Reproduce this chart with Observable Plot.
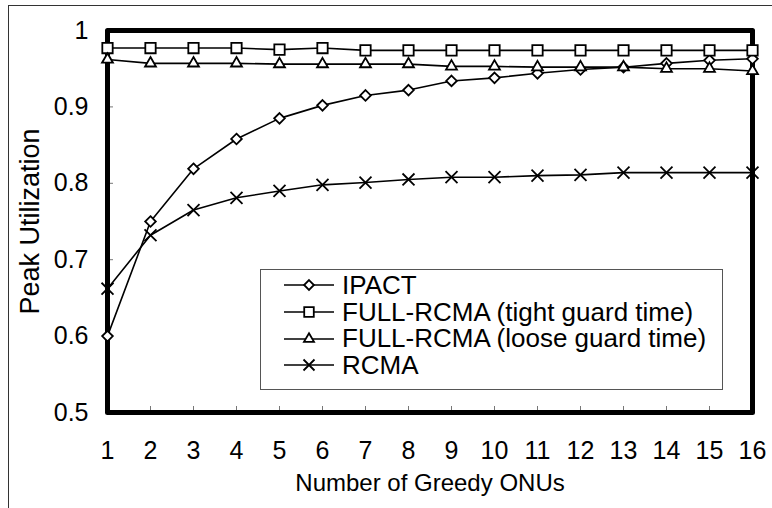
<!DOCTYPE html>
<html><head><meta charset="utf-8">
<script src="https://cdn.jsdelivr.net/npm/d3@7"></script>
<script src="https://cdn.jsdelivr.net/npm/@observablehq/plot@0.6"></script>
<style>
body{margin:0;background:#fff;font-family:"Liberation Sans",Arial,sans-serif;}
#wrap{position:relative;width:772px;height:508px;overflow:hidden}
#outer{position:absolute;left:8px;top:5px;right:-4px;bottom:-4px;border-left:1.5px solid #333;border-top:1.5px solid #333;pointer-events:none}
#legend{position:absolute;left:260px;top:269px;width:463px;height:121px;border:1.5px solid #555;background:#fff;padding-top:2px;box-sizing:border-box}
.row{display:flex;align-items:center;height:26.7px;line-height:26.7px;font-size:26px;color:#000;white-space:nowrap}
.row svg{margin-left:23px;margin-right:8px;overflow:visible}
</style></head><body><div id="wrap"><div id="outer"></div><div id="legend"></div></div>
<script>
const onus = [1,2,3,4,5,6,7,8,9,10,11,12,13,14,15,16];
const ipact = [0.600,0.750,0.819,0.858,0.885,0.902,0.915,0.922,0.934,0.938,0.944,0.949,0.952,0.957,0.961,0.963];
const tight = [0.977,0.977,0.977,0.977,0.975,0.977,0.974,0.974,0.974,0.974,0.974,0.974,0.974,0.974,0.974,0.974];
const loose = [0.962,0.957,0.957,0.957,0.956,0.956,0.956,0.956,0.953,0.953,0.952,0.952,0.952,0.950,0.950,0.947];
const rcma = [0.662,0.732,0.765,0.781,0.790,0.798,0.801,0.805,0.808,0.808,0.810,0.811,0.814,0.814,0.814,0.814];
const seriesNames = ["IPACT","FULL-RCMA (tight guard time)","FULL-RCMA (loose guard time)","RCMA"];
const xTicks = onus;
const yTicks = [0.5,0.6,0.7,0.8,0.9,1];
const yTickLabels = ["0.5","0.6","0.7","0.8","0.9","1"];
const xLabel = "Number of Greedy ONUs";
const yLabel = "Peak Utilization";

const styles = [
  {symbol:"diamond2", r:4.8},
  {symbol:"square2", r:6.6},
  {symbol:"triangle2", r:5.2},
  {symbol:"times", r:5.5}
];
const allVals = [ipact, tight, loose, rcma];
const series = seriesNames.map((name,k)=>({name, ...styles[k], data: onus.map((x,i)=>({x, y: allVals[k][i], name}))}));

const chart = Plot.plot({
  width:772, height:508,
  marginLeft:107, marginRight:20, marginTop:30, marginBottom:96,
  style:{fontFamily:"'Liberation Sans', Arial, sans-serif", fontSize:"25px", color:"#000", background:"transparent", overflow:"visible"},
  x:{domain:[1,16]},
  y:{domain:[0.5,1]},
  marks:[
    Plot.axisX({ticks:xTicks, tickSize:-6, text:null, label:null, stroke:"#777"}),
    Plot.axisY({ticks:yTicks, tickSize:-6, text:null, label:null, stroke:"#777"}),
    Plot.axisX({ticks:xTicks, tickSize:0, tickPadding:29, fontSize:25, tickFormat:d=>String(d), label:null}),
    Plot.axisX({ticks:[], tickSize:0, fontSize:24, label:xLabel, labelAnchor:"center", labelOffset:78, labelArrow:"none"}),
    Plot.axisY({ticks:yTicks, tickSize:0, tickPadding:19, fontSize:25, tickFormat:(d)=>yTickLabels[yTicks.indexOf(d)], label:null}),
    Plot.axisY({ticks:[], tickSize:0, fontSize:27, label:yLabel, labelAnchor:"center", labelOffset:88, labelArrow:"none"}),
    Plot.frame({strokeWidth:5, strokeLinejoin:"round", stroke:"#000"}),
    ...series.map(s=>Plot.line(s.data,{x:"x", y:"y", stroke:"#000", strokeWidth:1.6})),
    ...series.map(s=>Plot.dot(s.data,{x:"x", y:"y", symbol:()=>s.symbol, r:s.r, stroke:"#000", fill:"#fff", strokeWidth:1.8}))
  ]
});
document.getElementById("wrap").prepend(chart);

const legend = document.getElementById("legend");
const symMap = {diamond2:d3.symbolDiamond2, square2:d3.symbolSquare2, triangle2:d3.symbolTriangle2, times:d3.symbolTimes};
series.forEach(s=>{
  const row = document.createElement("div");
  row.className = "row";
  const svg = d3.create("svg").attr("width",50).attr("height",20);
  svg.append("line").attr("x1",0).attr("x2",50).attr("y1",10).attr("y2",10).attr("stroke","#000").attr("stroke-width",1.6);
  svg.append("path").attr("transform","translate(25,10)")
    .attr("d", d3.symbol(symMap[s.symbol], Math.PI*s.r*s.r*0.85)())
    .attr("fill","#fff").attr("stroke","#000").attr("stroke-width",1.8);
  row.appendChild(svg.node());
  const t = document.createElement("span");
  t.textContent = s.name;
  row.appendChild(t);
  legend.appendChild(row);
});
</script>
</body></html>
